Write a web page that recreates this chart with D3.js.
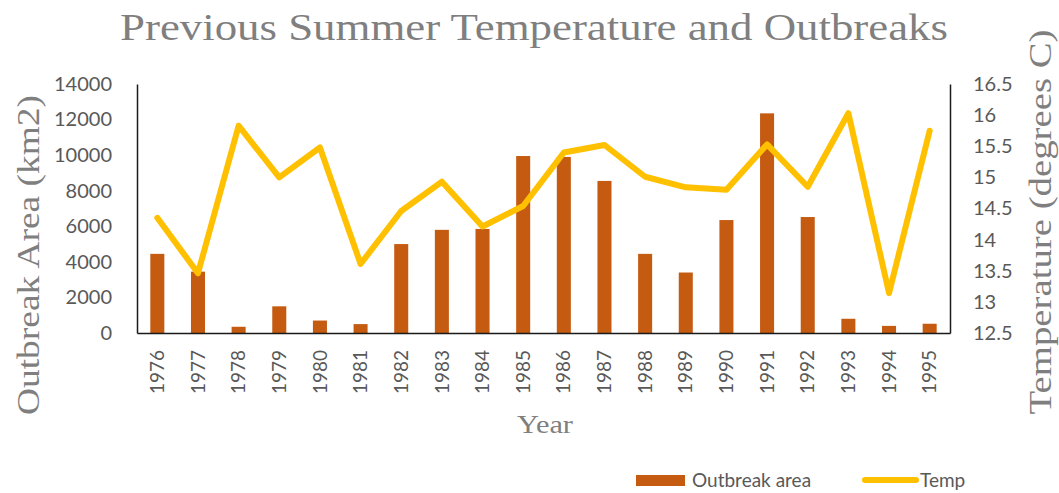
<!DOCTYPE html>
<html>
<head>
<meta charset="utf-8">
<script src="https://cdn.jsdelivr.net/npm/d3@7"></script>
<style>
  body { margin: 0; background: #fff; }
  text { font-family: Lato, "Open Sans", sans-serif; fill: #595959; }
  .serif { font-family: "Liberation Serif", "DejaVu Serif", serif; fill: #7f7f7f; }
</style>
</head>
<body>
<div id="chart"></div>
<script>
// chart data
const years = ["1976","1977","1978","1979","1980","1981","1982","1983","1984","1985",
               "1986","1987","1988","1989","1990","1991","1992","1993","1994","1995"];
const outbreakArea = [4450, 3450, 350, 1500, 700, 500, 5000, 5800, 5850, 9950,
                      9900, 8550, 4450, 3400, 6350, 12350, 6520, 800, 400, 520];
const temp = [14.35, 13.46, 15.83, 15.0, 15.48, 13.61, 14.46, 14.93, 14.21, 14.54,
              15.4, 15.52, 15.01, 14.84, 14.8, 15.53, 14.85, 16.03, 13.14, 15.75];
const areaTicks = [0, 2000, 4000, 6000, 8000, 10000, 12000, 14000];
const tempTicks = [12.5, 13, 13.5, 14, 14.5, 15, 15.5, 16, 16.5];

const W = 1059, H = 493;
const margin = { top: 84, right: 109, bottom: 160, left: 137 };
const width = W - margin.left - margin.right;
const height = H - margin.top - margin.bottom;

const svg = d3.select("#chart")
    .append("svg")
    .attr("width", W)
    .attr("height", H);

const g = svg.append("g")
    .attr("transform", `translate(${margin.left},${margin.top})`);

const x = d3.scaleBand()
    .domain(years)
    .range([0, width])
    .paddingInner(0.655)
    .paddingOuter(0.3275);

const y = d3.scaleLinear().domain([0, 14000]).range([height, 0]);
const y2 = d3.scaleLinear().domain([12.5, 16.5]).range([height, 0]);

// bars
g.selectAll(".bar")
    .data(years)
    .enter().append("rect")
    .attr("class", "bar")
    .attr("x", d => x(d))
    .attr("y", (d, i) => y(outbreakArea[i]))
    .attr("width", x.bandwidth())
    .attr("height", (d, i) => height - y(outbreakArea[i]))
    .style("fill", "#c55a11");

// temp line
g.append("path")
    .datum(years)
    .attr("d", d3.line()
        .x(d => x(d) + x.bandwidth() / 2)
        .y((d, i) => y2(temp[i])))
    .style("fill", "none")
    .style("stroke", "#ffc000")
    .style("stroke-width", 6)
    .style("stroke-linejoin", "round")
    .style("stroke-linecap", "round");

// axes
const left = g.append("g")
    .call(d3.axisLeft(y).tickValues(areaTicks).tickSize(0).tickPadding(25).tickFormat(d3.format("d")));
const right = g.append("g")
    .attr("transform", `translate(${width},0)`)
    .call(d3.axisRight(y2).tickValues(tempTicks).tickSize(0).tickPadding(23).tickFormat(d3.format("")));
const bottom = g.append("g")
    .attr("transform", `translate(0,${height})`)
    .call(d3.axisBottom(x).tickSize(0));

[left, right, bottom].forEach(a => {
    a.select(".domain").style("stroke", "#1a1a1a").style("stroke-width", 1.5);
    a.selectAll("text").style("font-size", "20px").style("fill", "#595959")
        .style("font-family", "Lato, sans-serif");
});

bottom.selectAll("text")
    .attr("transform", "rotate(-90)")
    .attr("text-anchor", "end")
    .attr("x", -17)
    .attr("y", 0)
    .attr("dy", "0.35em")
    .style("font-size", "19px");

// titles
svg.append("text")
    .attr("class", "serif")
    .attr("x", 534)
    .attr("y", 40)
    .attr("text-anchor", "middle")
    .attr("textLength", 828)
    .attr("lengthAdjust", "spacingAndGlyphs")
    .style("font-size", "38px")
    .text("Previous Summer Temperature and Outbreaks");

svg.append("text")
    .attr("class", "serif")
    .attr("transform", "rotate(-90)")
    .attr("x", -255)
    .attr("y", 39)
    .attr("text-anchor", "middle")
    .attr("textLength", 320)
    .attr("lengthAdjust", "spacingAndGlyphs")
    .style("font-size", "31px")
    .text("Outbreak Area (km2)");

svg.append("text")
    .attr("class", "serif")
    .attr("transform", "rotate(-90)")
    .attr("x", -222)
    .attr("y", 1051)
    .attr("text-anchor", "middle")
    .attr("textLength", 385)
    .attr("lengthAdjust", "spacingAndGlyphs")
    .style("font-size", "31px")
    .text("Temperature (degrees C)");

svg.append("text")
    .attr("class", "serif")
    .attr("x", 545)
    .attr("y", 433)
    .attr("text-anchor", "middle")
    .attr("textLength", 56)
    .attr("lengthAdjust", "spacingAndGlyphs")
    .style("font-size", "26px")
    .text("Year");

// legend
const legend = svg.append("g");
legend.append("rect")
    .attr("x", 636).attr("y", 475).attr("width", 49).attr("height", 11)
    .style("fill", "#c55a11");
legend.append("text")
    .attr("x", 692).attr("y", 487)
    .style("font-size", "19px")
    .text("Outbreak area");
legend.append("line")
    .attr("x1", 865).attr("x2", 916).attr("y1", 480).attr("y2", 480)
    .style("stroke", "#ffc000").style("stroke-width", 6)
    .style("stroke-linecap", "round");
legend.append("text")
    .attr("x", 920).attr("y", 487)
    .style("font-size", "19px")
    .text("Temp");
</script>
</body>
</html>
